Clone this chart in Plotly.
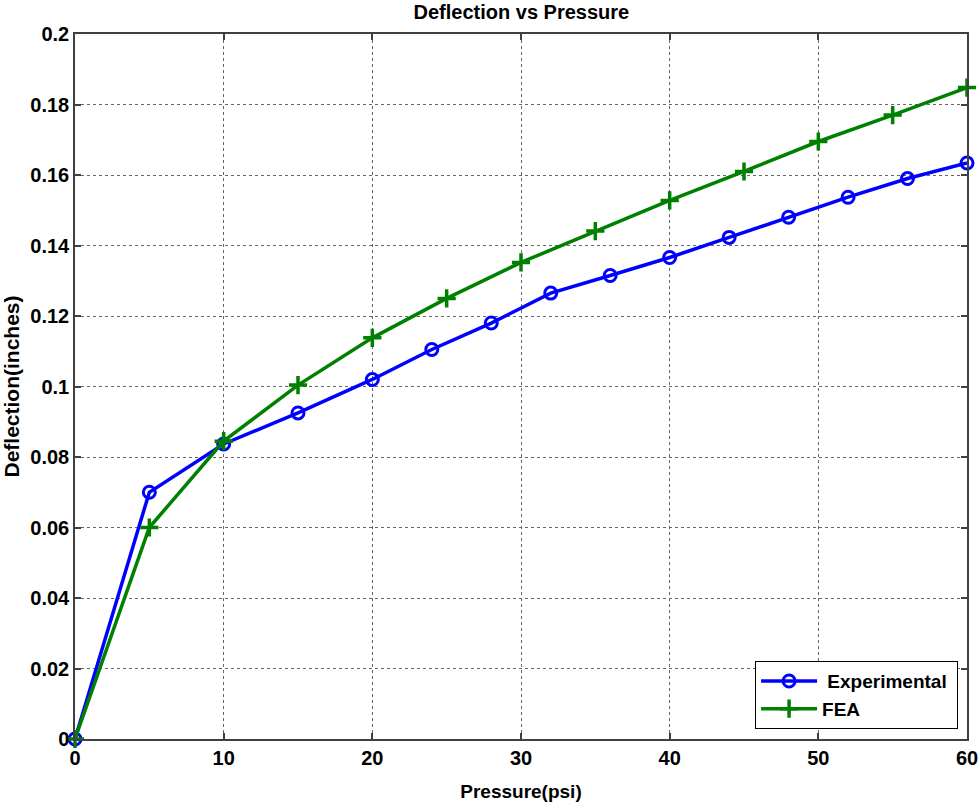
import plotly.graph_objects as go

exp_x = [0, 5, 10, 15, 20, 24, 28, 32, 36, 40, 44, 48, 52, 56, 60]
exp_y = [0, 0.070, 0.0837, 0.0925, 0.102, 0.1105, 0.118, 0.1265, 0.1315,
         0.1366, 0.1423, 0.148, 0.1537, 0.159, 0.1634]
fea_x = [0, 5, 10, 15, 20, 25, 30, 35, 40, 45, 50, 55, 60]
fea_y = [0, 0.060, 0.0845, 0.1004, 0.1138, 0.125, 0.1352, 0.1441, 0.1528,
         0.161, 0.1695, 0.177, 0.1848]

x_ticks = [0, 10, 20, 30, 40, 50, 60]
y_ticks = [0, 0.02, 0.04, 0.06, 0.08, 0.1, 0.12, 0.14, 0.16, 0.18, 0.2]
y_tick_text = ["0", "0.02", "0.04", "0.06", "0.08", "0.1", "0.12", "0.14", "0.16", "0.18", "0.2"]

FONT = "Liberation Sans, Arial, sans-serif"

fig = go.Figure()
fig.add_trace(go.Scatter(
    x=exp_x, y=exp_y, mode="lines+markers", name=" Experimental\u00a0",
    line=dict(color="#0000ff", width=3.5),
    marker=dict(symbol="circle-open", size=12, color="#0000ff", line=dict(width=3, color="#0000ff")),
    cliponaxis=False,
))
fig.add_trace(go.Scatter(
    x=fea_x, y=fea_y, mode="lines+markers", name="FEA",
    line=dict(color="#008000", width=3.5),
    marker=dict(symbol="cross-thin-open", size=13, color="#008000", line=dict(width=3.5, color="#008000")),
    cliponaxis=False,
))

axis_common = dict(
    showline=True, linecolor="#404040", linewidth=1.5, mirror="allticks",
    ticks="inside", ticklen=6, tickcolor="#404040", tickwidth=1.5,
    showgrid=True, gridcolor="#666666", griddash="dot", gridwidth=1,
    zeroline=False, automargin=False,
    tickfont=dict(family=FONT, size=20, color="black", weight="bold"),
)

fig.update_xaxes(
    range=[0, 60], tickvals=x_ticks,
    title=dict(text="Pressure(psi)", font=dict(family=FONT, size=19, color="black", weight="bold"), standoff=17),
    **axis_common,
)
fig.update_yaxes(
    range=[0, 0.2], tickvals=y_ticks, ticktext=y_tick_text,
    title=dict(text="Deflection(inches)", font=dict(family=FONT, size=21, color="black", weight="bold"), standoff=10),
    **axis_common,
)

fig.update_layout(
    width=980, height=806,
    template="none",
    margin=dict(l=75, r=13, t=34, b=67),
    paper_bgcolor="white", plot_bgcolor="white",
    title=dict(text="Deflection vs Pressure", x=0.532, xanchor="center", y=0.994, yanchor="top",
               font=dict(family=FONT, size=20, color="black", weight="bold")),
    legend=dict(
        x=0.99, xanchor="right", y=0.014, yanchor="bottom",
        bgcolor="white", bordercolor="black", borderwidth=1,
        font=dict(family=FONT, size=19, color="black", weight="bold"),
        tracegroupgap=0, itemwidth=56,
    ),
    showlegend=True,
)

fig.write_html("out.html")
